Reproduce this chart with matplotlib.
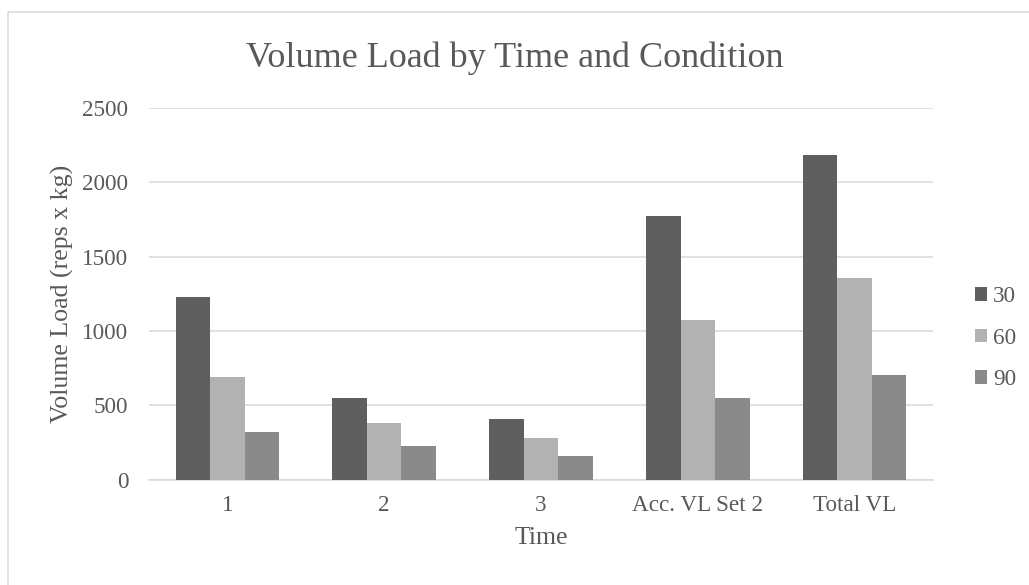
import matplotlib

matplotlib.use('Agg')
import matplotlib.pyplot as plt
import numpy as np
from matplotlib.patches import Rectangle

plt.rcParams['font.family'] = ['Liberation Serif', 'DejaVu Serif']

categories = ['1', '2', '3', 'Acc. VL Set 2', 'Total VL']
series_names = ['30', '60', '90']
vals_30 = [1225, 550, 407, 1775, 2184]
vals_60 = [692, 382, 277, 1075, 1354]
vals_90 = [322, 225, 156, 548, 703]
colors = ['#5f5f5f', '#b2b2b2', '#8a8a8a']
text_color = '#595959'
grid_color = '#d9d9d9'

W, H = 1029, 585
fig = plt.figure(figsize=(W / 100, H / 100), dpi=100)
ax = fig.add_axes([149 / W, 1 - 479.5 / H, 784 / W, 371.5 / H])

x = np.arange(len(categories))
width = 0.22
for i, (vals, name) in enumerate(zip([vals_30, vals_60, vals_90], series_names)):
    ax.bar(x + (i - 1) * width, vals, width, color=colors[i], label=name, zorder=3)

ax.set_xlim(-0.5, len(categories) - 0.5)
ax.set_ylim(0, 2500)
ax.set_yticks(np.arange(0, 2501, 500))
ax.set_xticks(x)
ax.set_xticklabels(categories)
ax.yaxis.grid(True, color=grid_color, linewidth=1.1, zorder=0)
for s in ['top', 'right', 'left']:
    ax.spines[s].set_visible(False)
ax.spines['bottom'].set_color(grid_color)
ax.spines['bottom'].set_linewidth(1.1)
ax.tick_params(axis='both', length=0, labelsize=16.7, colors=text_color)
ax.tick_params(axis='y', pad=15)
ax.tick_params(axis='x', pad=11)

ax.set_xlabel('Time', fontsize=18.6, color=text_color, labelpad=8)
ax.set_ylabel('Volume Load (reps x kg)', fontsize=18.6, color=text_color, labelpad=6)
fig.text(0.5, 1 - 66.7 / H, 'Volume Load by Time and Condition', ha='center', va='baseline',
         fontsize=26, color=text_color)

leg = ax.legend(loc='center left', bbox_to_anchor=(1.0536, 0.38), frameon=False, fontsize=16.7,
                handlelength=0.52, handleheight=0.52, handletextpad=0.26, labelspacing=0.88,
                borderpad=0, borderaxespad=0)
for t in leg.get_texts():
    t.set_color(text_color)

fig.patches.append(Rectangle((8 / W, -0.5), 1.5, 1.5 - 12 / H, transform=fig.transFigure,
                             fill=False, edgecolor=grid_color, linewidth=1.1))

fig.savefig('out.png', dpi=100)
